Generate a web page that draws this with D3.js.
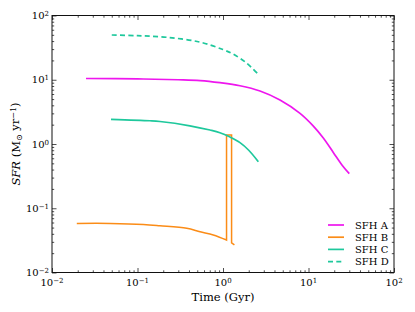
<!DOCTYPE html>
<html>
<head>
<meta charset="utf-8">
<script src="https://cdn.jsdelivr.net/npm/d3@7"></script>
<style>
    body { margin: 0; background: #fff; }
    svg text { font-family: "DejaVu Serif", serif; fill: #000; }
</style>
</head>
<body>
<div id="chart"></div>
<script>
/* ----------------------------------------------------- Data ------------------------------------------------------------------------- */

const xTickValues = [0.01, 0.1, 1, 10, 100];
const xTickExponents = ["\u22122", "\u22121", "0", "1", "2"];
const yTickValues = [0.01, 0.1, 1, 10, 100];
const yTickExponents = ["\u22122", "\u22121", "0", "1", "2"];

const seriesNames = ["SFH A", "SFH B", "SFH C", "SFH D"];
const seriesColors = ["#ee16ee", "#fb8c17", "#1ec89c", "#1ec89c"];

// SFH A: smooth decline
const sfhATime = [0.025, 0.1, 0.3, 0.54, 0.92, 1.58, 2.71, 4.64, 7.96, 11.4, 14.9, 19.5, 25, 30];
const sfhASfr = [10.45, 10.3, 10.0, 9.7, 9.0, 8.07, 6.68, 4.84, 3.0, 1.9, 1.24, 0.74, 0.46, 0.346];

// SFH B: slow decline, then a short burst
const sfhBTime = [0.0195, 0.048, 0.117, 0.183, 0.377, 0.54, 0.77, 1.10];
const sfhBSfr = [0.058, 0.058, 0.056, 0.0535, 0.0488, 0.043, 0.0384, 0.032];
const sfhBBurstTime = [1.10, 1.10, 1.26, 1.26, 1.36];
const sfhBBurstSfr = [0.032, 1.38, 1.38, 0.029, 0.027];

// SFH C
const sfhCTime = [0.049, 0.14, 0.183, 0.41, 0.705, 0.92, 1.21, 1.58, 2.0, 2.59];
const sfhCSfr = [2.42, 2.3, 2.24, 1.92, 1.65, 1.5, 1.28, 1.05, 0.8, 0.53];

// SFH D (dashed)
const sfhDTime = [0.05, 0.1, 0.22, 0.54, 1.0, 1.32, 1.89, 2.52];
const sfhDSfr = [49.7, 48.5, 45.8, 38.5, 29.5, 25, 18.2, 12.6];

/* ----------------------------------------------------- Chart ------------------------------------------------------------------------ */

const svgWidth = 415;
const svgHeight = 312;
const margin = { top: 15.5, right: 21, bottom: 39.5, left: 52 };
const plotW = svgWidth - margin.left - margin.right;
const plotH = svgHeight - margin.top - margin.bottom;

const svg = d3.select('#chart').append('svg')
    .attr('width', svgWidth)
    .attr('height', svgHeight);

const g = svg.append('g')
    .attr('transform', `translate(${margin.left}, ${margin.top})`);

const xScale = d3.scaleLog().domain([0.01, 100]).range([0, plotW]);
const yScale = d3.scaleLog().domain([0.01, 100]).range([plotH, 0]);

const xMinor = xScale.ticks().filter(d => !xTickValues.some(v => Math.abs(v - d) / v < 1e-6));
const yMinor = yScale.ticks().filter(d => !yTickValues.some(v => Math.abs(v - d) / v < 1e-6));

function styleAxis(sel) {
    sel.select('.domain').remove();
    sel.selectAll('line').attr('stroke', '#222').attr('stroke-width', 0.8);
    sel.selectAll('text').remove();
}

// ticks on all four sides, pointing inward
g.append('g').attr('transform', `translate(0, ${plotH})`)
    .call(d3.axisBottom(xScale).tickValues(xTickValues).tickSize(-4.5)).call(styleAxis);
g.append('g').attr('transform', `translate(0, ${plotH})`)
    .call(d3.axisBottom(xScale).tickValues(xMinor).tickSize(-2.2)).call(styleAxis);
g.append('g')
    .call(d3.axisTop(xScale).tickValues(xTickValues).tickSize(-4.5)).call(styleAxis);
g.append('g')
    .call(d3.axisTop(xScale).tickValues(xMinor).tickSize(-2.2)).call(styleAxis);
g.append('g')
    .call(d3.axisLeft(yScale).tickValues(yTickValues).tickSize(-4.5)).call(styleAxis);
g.append('g')
    .call(d3.axisLeft(yScale).tickValues(yMinor).tickSize(-2.2)).call(styleAxis);
g.append('g').attr('transform', `translate(${plotW}, 0)`)
    .call(d3.axisRight(yScale).tickValues(yTickValues).tickSize(-4.5)).call(styleAxis);
g.append('g').attr('transform', `translate(${plotW}, 0)`)
    .call(d3.axisRight(yScale).tickValues(yMinor).tickSize(-2.2)).call(styleAxis);

// tick labels as 10^n
function powerLabel(sel, exp) {
    sel.append('tspan').text('10');
    sel.append('tspan').attr('dy', '-0.42em').style('font-size', '7px').text(exp);
}

xTickValues.forEach((v, i) => {
    g.append('text')
        .attr('x', xScale(v))
        .attr('y', plotH + 13)
        .attr('text-anchor', 'middle')
        .style('font-size', '10px')
        .call(powerLabel, xTickExponents[i]);
});

yTickValues.forEach((v, i) => {
    g.append('text')
        .attr('x', -3)
        .attr('y', yScale(v) + 3.6)
        .attr('text-anchor', 'end')
        .style('font-size', '10px')
        .call(powerLabel, yTickExponents[i]);
});

// lines
const line = d3.line()
    .x(d => xScale(d[0]))
    .y(d => yScale(d[1]))
    .curve(d3.curveCatmullRom.alpha(0.5));
const stepLine = d3.line()
    .x(d => xScale(d[0]))
    .y(d => yScale(d[1]));

const zip = (a, b) => a.map((d, i) => [d, b[i]]);

const plot = g.append('g');

plot.append('path')
    .attr('d', line(zip(sfhATime, sfhASfr)))
    .attr('fill', 'none').attr('stroke', seriesColors[0]).attr('stroke-width', 1.7);

plot.append('path')
    .attr('d', line(zip(sfhBTime, sfhBSfr)) + stepLine(zip(sfhBBurstTime, sfhBBurstSfr)).replace(/^M/, 'L'))
    .attr('fill', 'none').attr('stroke', seriesColors[1]).attr('stroke-width', 1.5)
    .attr('stroke-linejoin', 'miter');

plot.append('path')
    .attr('d', line(zip(sfhCTime, sfhCSfr)))
    .attr('fill', 'none').attr('stroke', seriesColors[2]).attr('stroke-width', 1.7);

plot.append('path')
    .attr('d', line(zip(sfhDTime, sfhDSfr)))
    .attr('fill', 'none').attr('stroke', seriesColors[3]).attr('stroke-width', 1.7)
    .attr('stroke-dasharray', '5,3.3');

// frame
g.append('rect')
    .attr('width', plotW).attr('height', plotH)
    .attr('fill', 'none').attr('stroke', '#111').attr('stroke-width', 1);

// axis titles
svg.append('text')
    .attr('x', margin.left + plotW / 2)
    .attr('y', 301)
    .attr('text-anchor', 'middle')
    .style('font-size', '11.5px')
    .text('Time (Gyr)');

const yTitle = svg.append('text')
    .attr('transform', `translate(20, ${margin.top + plotH / 2}) rotate(-90)`)
    .attr('text-anchor', 'middle')
    .style('font-size', '11.5px');
yTitle.append('tspan').style('font-style', 'italic').text('SFR');
yTitle.append('tspan').text(' (M');
yTitle.append('tspan').attr('dy', '0.25em').style('font-size', '8px').text('\u2299');
yTitle.append('tspan').attr('dy', '-0.25em').text(' yr');
yTitle.append('tspan').attr('dy', '-0.45em').style('font-size', '8px').text('\u22121');
yTitle.append('tspan').attr('dy', '0.3em').text(')');

// legend
const legend = svg.append('g').attr('transform', 'translate(328, 225)');
seriesNames.forEach((name, i) => {
    const row = legend.append('g').attr('transform', `translate(0, ${i * 12.2})`);
    row.append('line')
        .attr('x1', 0).attr('x2', 16)
        .attr('stroke', seriesColors[i]).attr('stroke-width', 1.7)
        .attr('stroke-dasharray', i === 3 ? '5,3.3' : null);
    row.append('text')
        .attr('x', 27).attr('y', 3.8)
        .style('font-size', '10px')
        .text(name);
});
</script>
</body>
</html>
